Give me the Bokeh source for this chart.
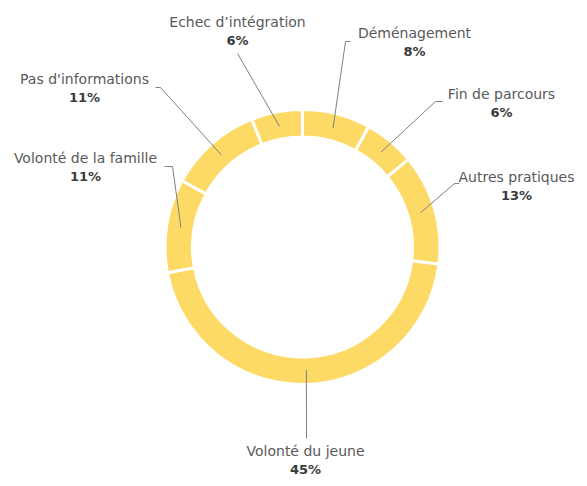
import math
from bokeh.plotting import figure
from bokeh.models import Range1d
from bokeh.core.properties import value
from bokeh.embed import file_html
from bokeh.resources import INLINE

# ---- data ----
categories = ["Déménagement", "Fin de parcours", "Autres pratiques", "Volonté du jeune",
              "Volonté de la famille", "Pas d'informations", "Echec d\u2019intégration"]
values = [8, 6, 13, 45, 11, 11, 6]
pct_labels = ["8%", "6%", "13%", "45%", "11%", "11%", "6%"]

# ---- layout (image pixel coordinates) ----
FW, FH = 579, 478
H = 486
CX, CY = 302, 246.5
R_IN, R_OUT, R_LEAD = 110, 137.5, 123
# label centre (x, y of first line), elbow point, end of horizontal tick
label_xy = [(414, 32), (501, 93), (516, 176), (305, 450), (85, 157), (84, 78), (237, 21)]
elbow_xy = [(345, 41), (435, 101), (454, 183), (306, 438), (172, 166), (160, 87), (237, 53)]
tick_xy = [(350, 41), (442, 101), (459, 183), (306, 438), (164, 166), (155, 87), (237, 53)]


def fy(y):
    return H - y


p = figure(width=FW, height=FH, output_backend="svg", toolbar_location=None,
           x_range=Range1d(0, FW), y_range=Range1d(fy(FH), fy(0)),
           min_border=0, outline_line_color=None)
p.axis.visible = False
p.grid.visible = False
p.background_fill_color = "white"
p.border_fill_color = "white"

total = sum(values)
cum = 0.0
starts, ends, mids = [], [], []
for v in values:
    t0 = cum / total * 2 * math.pi
    cum += v
    t1 = cum / total * 2 * math.pi
    starts.append(math.pi / 2 - t1)
    ends.append(math.pi / 2 - t0)
    mids.append((t0 + t1) / 2)

p.annular_wedge(x=CX, y=fy(CY), inner_radius=R_IN, outer_radius=R_OUT,
                start_angle=starts, end_angle=ends, fill_color="#FDDA66",
                line_color="white", line_width=3)

# leader lines
xs, ys = [], []
for m, e, t in zip(mids, elbow_xy, tick_xy):
    px = CX + R_LEAD * math.sin(m)
    py = CY - R_LEAD * math.cos(m)
    xs.append([px, e[0], t[0]])
    ys.append([fy(py), fy(e[1]), fy(t[1])])
p.multi_line(xs=xs, ys=ys, line_color="#808080", line_width=1)

font = value("DejaVu Sans")
p.text(x=[l[0] for l in label_xy], y=[fy(l[1]) for l in label_xy], text=categories,
       text_font=font, text_font_size="14px", text_color="#595959",
       text_align="center", text_baseline="middle")
p.text(x=[l[0] for l in label_xy], y=[fy(l[1] + 19) for l in label_xy], text=pct_labels,
       text_font=font, text_font_size="13px", text_font_style="bold", text_color="#3a3a3a",
       text_align="center", text_baseline="middle")

open("out.html", "w").write(file_html(p, INLINE))
